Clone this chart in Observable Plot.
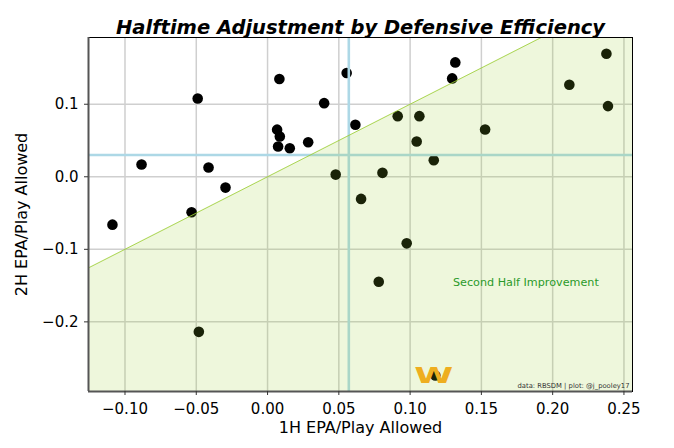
<!DOCTYPE html>
<html><head><meta charset="utf-8">
<script src="https://cdn.jsdelivr.net/npm/d3@7"></script>
<script src="https://cdn.jsdelivr.net/npm/@observablehq/plot@0.6"></script>
<style>
html,body{margin:0;padding:0;background:#fff;}
#chart svg{display:block;}
</style></head><body><div id="chart"></div>
<script>
// 1H and 2H EPA/play allowed, one entry per team
const firstHalf = [-0.1088, -0.0884, -0.0533, -0.0490, -0.0482, -0.0414, -0.0295, 0.0067,
  0.0086, 0.0074, 0.0156, 0.0083, 0.0285, 0.0397, 0.0555, 0.0616,
  0.0478, 0.0656, 0.0806, 0.0780, 0.0976, 0.0913, 0.1065, 0.1046,
  0.1166, 0.1295, 0.1317, 0.1526, 0.2117, 0.2377, 0.2388, 0.1177];
const secondHalf = [-0.0660, 0.0169, -0.0490, 0.1080, -0.2138, 0.0127, -0.0149, 0.0650,
  0.0555, 0.0417, 0.0394, 0.1347, 0.0477, 0.1015, 0.1430, 0.0717,
  0.0030, -0.0305, 0.0054, -0.1448, -0.0918, 0.0836, 0.0836, 0.0486,
  0.0228, 0.1356, 0.1577, 0.0652, 0.1269, 0.1697, 0.0974, -0.2740];
const logoIndex = 31; // team shown with the "W" logo
const avgFirstHalf = 0.057;
const avgSecondHalf = 0.030;
const xTicks = [-0.10, -0.05, 0.00, 0.05, 0.10, 0.15, 0.20, 0.25];
const yTicks = [-0.2, -0.1, 0.0, 0.1];
const xDomain = [-0.1256, 0.256];
const yDomain = [-0.296, 0.192];
const annotation = {x: 0.1812, y: -0.1457, text: "Second Half Improvement"};
const title = "Halftime Adjustment by Defensive Efficiency";
const xLabel = "1H EPA/Play Allowed";
const yLabel = "2H EPA/Play Allowed";
const credit = "data: RBSDM | plot: @j_pooley17";

const teams = firstHalf.map((x, i) => ({x, y: secondHalf[i]}));
const diag = xDomain.slice();

const chart = Plot.plot({
  width: 674,
  height: 448,
  marginTop: 37,
  marginLeft: 88,
  marginRight: 42,
  marginBottom: 57,
  style: {fontFamily: "DejaVu Sans", background: "white", color: "#000"},
  x: {domain: xDomain, ticks: xTicks},
  y: {domain: yDomain, ticks: yTicks},
  marks: [
    Plot.gridX(xTicks, {stroke: "#cfcfcf", strokeOpacity: 1, strokeWidth: 1.5}),
    Plot.gridY(yTicks, {stroke: "#cfcfcf", strokeOpacity: 1, strokeWidth: 1.5}),
    Plot.dot(teams, {x: "x", y: "y", r: 5.3, fill: "black", stroke: "none"}),
    Plot.ruleX([avgFirstHalf], {stroke: "#add8e6", strokeWidth: 2.6}),
    Plot.ruleY([avgSecondHalf], {stroke: "#add8e6", strokeWidth: 2.6}),
    Plot.areaY(diag, {x: d => d, y1: yDomain[0], y2: d => d, fill: "#9acd32", fillOpacity: 0.17, clip: true}),
    Plot.line(diag, {x: d => d, y: d => d, stroke: "#9acd32", strokeWidth: 0.8, clip: true}),
    Plot.text([annotation], {x: "x", y: "y", text: "text", fill: "#2a9a2a", fontSize: 11.2, textAnchor: "middle"}),
    Plot.text([teams[logoIndex]], {x: "x", y: "y", text: () => "W", fill: "#eeae1f", fontSize: 21, fontWeight: "bold", dx: -1.5, dy: 1, textAnchor: "middle"}),
    Plot.text([credit], {text: d => d, frameAnchor: "bottom-right", dx: -3, dy: -4, fontSize: 6.8, fill: "#333", textAnchor: "end"}),
    Plot.frame({stroke: "black", strokeWidth: 1}),
    Plot.ruleX([xDomain[0]], {stroke: "#555", strokeWidth: 2}),
    Plot.ruleY([yDomain[0]], {stroke: "#555", strokeWidth: 2}),
    Plot.axisX({ticks: xTicks, tickFormat: d3.format(".2f"), tickSize: 4, tickPadding: 8, fontSize: 15, label: null, stroke: "#333"}),
    Plot.axisY({ticks: yTicks, tickFormat: d3.format(".1f"), tickSize: 4, tickPadding: 6, fontSize: 15, label: null, stroke: "#333"}),
    Plot.text([xLabel], {text: d => d, frameAnchor: "bottom", dy: 41, fontSize: 16, textAnchor: "middle"}),
    Plot.text([yLabel], {text: d => d, frameAnchor: "left", dx: -67, rotate: -90, fontSize: 16, textAnchor: "middle"}),
    Plot.text([title], {text: d => d, frameAnchor: "top", dy: -17, fontSize: 19.5, fontWeight: "bold", fontStyle: "italic", textAnchor: "middle"})
  ]
});
document.getElementById("chart").appendChild(chart);
chart.querySelectorAll("text").forEach(t => {
  if (t.textContent === "W") {
    t.setAttribute("textLength", "39");
    t.setAttribute("lengthAdjust", "spacingAndGlyphs");
  }
});
</script>
</body></html>
